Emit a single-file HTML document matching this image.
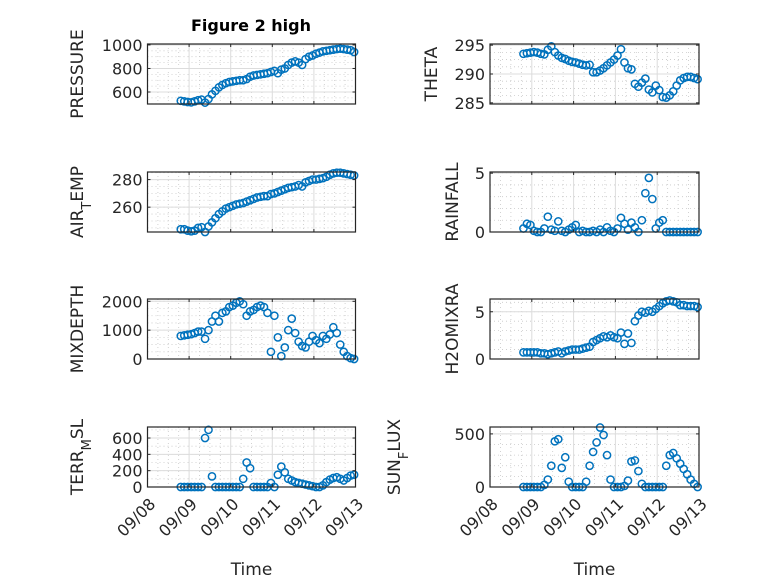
<!DOCTYPE html>
<html><head><meta charset="utf-8"><style>
html,body{margin:0;padding:0;background:#fff;}
svg{display:block;font-family:"DejaVu Sans","Liberation Sans",sans-serif;}
</style></head><body>
<svg id="fig" width="778" height="583" viewBox="0 0 778 583">
<rect width="778" height="583" fill="#fff"/>
<text x="251" y="31" text-anchor="middle" font-weight="bold" font-size="16" fill="#000">Figure 2 high</text>
</svg>
<script>
// shared time grid: days after 09/08 00:00
const startDay = 0.8;
const stepDay = 1/12;
const dayTickLabels = ["09/08","09/09","09/10","09/11","09/12","09/13"];
const pressureVals = [525,520,515,512,520,530,535,510,540,580,610,640,660,675,685,690,695,700,700,710,730,740,745,750,755,760,770,780,760,790,800,830,850,860,850,830,880,900,910,925,935,945,950,955,960,965,968,965,960,955,940];
const thetaVals = [293.5,293.6,293.7,293.8,293.7,293.5,293.4,294.2,294.8,293.8,293.2,292.8,292.6,292.3,292.1,292,291.8,291.6,291.5,291.6,290.3,290.3,290.6,291,291.5,292,292.5,293.2,294.3,292,291,290.8,288.3,287.8,288.5,289.2,287.3,286.8,288,287.2,286,285.9,286.3,287,288,288.9,289.3,289.5,289.5,289.3,289.1];
const airTempVals = [244,244,243,242.5,243,245,245.5,242,246,249,252,255,257,259,260,261,262,262.5,263,264,265,266,267,267.5,268,268,269.5,270,271,272,273,274,274.5,275,276,275,278,279,280,280,280.5,281,282,283.5,284.5,285,285,284.5,284,283.5,283];
const rainfallVals = [0.3,0.7,0.6,0.1,0,0,0.3,1.3,0.2,0.1,0.9,0.1,0,0.2,0.4,0.6,0,0.1,0,0,0.1,0,0.2,0,0.4,0.1,0,0.3,1.2,0.7,0.2,0.8,0.4,0,1.0,3.3,4.6,2.8,0.3,0.8,1.0,0,0,0,0,0,0,0,0,0,0];
const mixDepthVals = [800,820,840,860,900,950,950,700,1000,1300,1500,1300,1600,1650,1800,1850,1950,2000,1900,1500,1650,1700,1800,1850,1800,1600,250,1500,750,100,400,1000,1400,900,600,450,400,600,800,650,550,800,700,850,1100,900,500,250,100,30,0];
const h2oVals = [0.7,0.7,0.7,0.7,0.7,0.6,0.6,0.5,0.6,0.7,0.8,0.6,0.8,0.9,1,1,1,1.1,1.2,1.3,1.8,2,2.2,2.4,2.3,2.5,2.3,2.2,2.8,1.6,2.7,1.7,4,4.6,5,4.9,5.1,5,5.3,5.6,5.9,6.1,6.2,6.1,6,5.7,5.7,5.6,5.6,5.6,5.5];
const terrVals = [0,0,0,0,0,0,0,600,700,130,0,0,0,0,0,0,0,0,100,300,230,0,0,0,0,0,50,0,150,250,180,100,80,60,50,40,30,20,10,0,0,20,60,90,110,120,100,80,110,140,150];
const sunVals = [0,0,0,0,0,0,20,70,200,430,450,180,280,50,0,0,0,0,50,200,330,420,560,490,300,70,0,0,0,10,60,240,250,150,30,0,0,0,0,0,0,200,300,320,270,220,170,120,70,30,0];
const pressureTicks = [600,800,1000];
const thetaTicks = [285,290,295];
const airTempTicks = [260,280];
const rainfallTicks = [0,5];
const mixDepthTicks = [0,1000,2000];
const h2oTicks = [0,5];
const terrTicks = [0,200,400,600];
const sunTicks = [0,500];

const NS = "http://www.w3.org/2000/svg";
const svg = document.getElementById("fig");
function mk(tag, attrs, parent){
  const e = document.createElementNS(NS, tag);
  for (const k in attrs) e.setAttribute(k, attrs[k]);
  (parent||svg).appendChild(e);
  return e;
}
function panel(name, x0, y0, w, h, ymin, ymax, ticks, minorStep, vals, labelParts, labelX, showX){
  const g = mk("g", {});
  
  
  const xs = d => x0 + d / 5 * w;
  const ys = v => y0 + h - (v - ymin) / (ymax - ymin) * h;
  for (let d = 0; d <= 5.001; d += 0.25) {
    if (Math.abs(d - Math.round(d)) < 1e-6) continue;
    mk("line", {x1:xs(d), x2:xs(d), y1:y0, y2:y0+h, stroke:"#c8c8c8", "stroke-width":0.8, "stroke-dasharray":"1 3"}, g);
  }
  for (let v = Math.ceil(ymin/minorStep)*minorStep; v <= ymax; v += minorStep) {
    mk("line", {x1:x0, x2:x0+w, y1:ys(v), y2:ys(v), stroke:"#c8c8c8", "stroke-width":0.8, "stroke-dasharray":"1 3"}, g);
  }
  for (let d = 1; d < 5; d++) mk("line", {x1:xs(d), x2:xs(d), y1:y0, y2:y0+h, stroke:"#dcdcdc", "stroke-width":1}, g);
  ticks.forEach(v => mk("line", {x1:x0, x2:x0+w, y1:ys(v), y2:ys(v), stroke:"#dcdcdc", "stroke-width":1}, g));
  vals.forEach((v, i) => {
    const c = mk("circle", {cx:xs(startDay + i*stepDay), cy:ys(v), r:3.6, fill:"none", stroke:"#0072BD", "stroke-width":1.5}, g);
    
    
  });
  const box = mk("rect", {x:x0, y:y0, width:w, height:h, fill:"none", stroke:"#262626", "stroke-width":1.2}, g);
  
  
  for (let d = 0; d <= 5; d++) {
    mk("line", {x1:xs(d), x2:xs(d), y1:y0+h, y2:y0+h-3, stroke:"#262626"}, g);
    mk("line", {x1:xs(d), x2:xs(d), y1:y0, y2:y0+3, stroke:"#262626"}, g);
    if (showX) {
      const ax = xs(d)+9, ay = y0+h+18;
      const t = mk("text", {x:ax, y:ay, "text-anchor":"end", "font-size":16, fill:"#262626", transform:`rotate(-45 ${ax} ${ay})`}, g);
      t.textContent = dayTickLabels[d];
      
      
    }
  }
  ticks.forEach(v => {
    mk("line", {x1:x0, x2:x0+3, y1:ys(v), y2:ys(v), stroke:"#262626"}, g);
    mk("line", {x1:x0+w, x2:x0+w-3, y1:ys(v), y2:ys(v), stroke:"#262626"}, g);
    const t = mk("text", {x:x0-5, y:ys(v)+6, "text-anchor":"end", "font-size":16, fill:"#262626"}, g);
    t.textContent = String(v);
    
    
  });
  const cy = y0 + h/2;
  const lab = mk("text", {x:labelX, y:cy, "text-anchor":"middle", "font-size":17, fill:"#262626", transform:`rotate(-90 ${labelX} ${cy})`}, g);
  
  
  labelParts.forEach(p => {
    const ts = mk("tspan", {}, lab);
    if (p.sub) { ts.setAttribute("baseline-shift", "sub"); ts.setAttribute("font-size", "13"); }
    ts.textContent = p.t;
  });
  if (showX) {
    const xl = mk("text", {x:x0+w/2, y:575, "text-anchor":"middle", "font-size":17, fill:"#262626"}, g);
    xl.textContent = "Time";
    
    
  }
}
const LX = 147.5, RX = 490, W = 208, H = 60;
panel("pressure", LX, 44, W, H, 498, 1008, pressureTicks, 50, pressureVals, [{t:"PRESSURE"}], 83, false);
panel("theta", RX, 44, W+1, H, 284.8, 295.2, thetaTicks, 1.25, thetaVals, [{t:"THETA"}], 437, false);
panel("air-temp", LX, 172, W, H, 242, 285.5, airTempTicks, 5, airTempVals, [{t:"AIR"},{t:"T",sub:true},{t:"EMP"}], 83, false);
panel("rainfall", RX, 172, W+1, H, 0, 5.1, rainfallTicks, 1, rainfallVals, [{t:"RAINFALL"}], 458, false);
panel("mixdepth", LX, 299, W, H, 0, 2080, mixDepthTicks, 250, mixDepthVals, [{t:"MIXDEPTH"}], 83, false);
panel("h2omixra", RX, 299, W+1, H, 0, 6.35, h2oTicks, 1, h2oVals, [{t:"H2OMIXRA"}], 458, false);
panel("terr-msl", LX, 427, W, H, 0, 735, terrTicks, 100, terrVals, [{t:"TERR"},{t:"M",sub:true},{t:"SL"}], 83, true);
panel("sun-flux", RX, 427, W+1, H, 0, 565, sunTicks, 100, sunVals, [{t:"SUN"},{t:"F",sub:true},{t:"LUX"}], 400, true);
</script>
</body></html>
